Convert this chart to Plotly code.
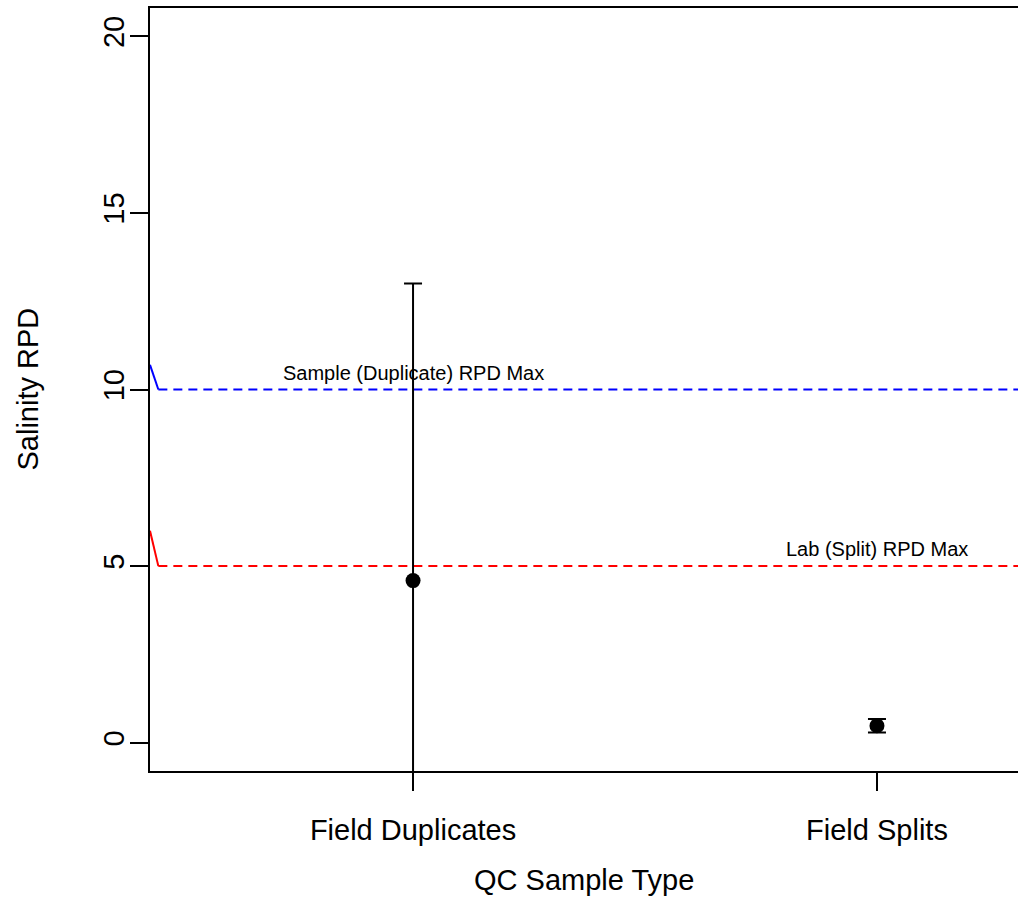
import plotly.graph_objects as go

# ---- data ----
categories = ["Field Duplicates", "Field Splits"]
cat_pos = [1, 2]
mean_rpd = [4.59, 0.48]
err_rpd = [8.41, 0.19]

dup_max = 10.0
split_max = 5.0
dup_label = "Sample (Duplicate) RPD Max"
split_label = "Lab (Split) RPD Max"

y_ticks = [0, 5, 10, 15, 20]
x_range = [0.433, 2.304]
y_range = [-0.8, 20.8]

# reference line geometry (data units)
line_start = 0.451
dup_slant_top = 10.7
split_slant_top = 6.0

FONT = "Liberation Sans, Arial, sans-serif"

fig = go.Figure()

# threshold lines (dashed)
fig.add_trace(go.Scatter(x=[line_start, x_range[1]], y=[dup_max, dup_max], mode="lines",
                         line=dict(color="blue", width=2, dash="9px,6px"), showlegend=False, hoverinfo="skip"))
fig.add_trace(go.Scatter(x=[line_start, x_range[1]], y=[split_max, split_max], mode="lines",
                         line=dict(color="red", width=2, dash="9px,6px"), showlegend=False, hoverinfo="skip"))
# short slanted solid segments at left
fig.add_trace(go.Scatter(x=[x_range[0], line_start], y=[dup_slant_top, dup_max], mode="lines",
                         line=dict(color="blue", width=2), showlegend=False, hoverinfo="skip"))
fig.add_trace(go.Scatter(x=[x_range[0], line_start], y=[split_slant_top, split_max], mode="lines",
                         line=dict(color="red", width=2), showlegend=False, hoverinfo="skip"))

# points with error bars
fig.add_trace(go.Scatter(
    x=cat_pos, y=mean_rpd, mode="markers",
    marker=dict(color="black", size=15, symbol="circle"),
    error_y=dict(type="data", array=err_rpd, symmetric=True, color="black", thickness=2, width=9),
    showlegend=False))

fig.add_annotation(x=cat_pos[0], y=dup_max, text=dup_label, showarrow=False,
                   yanchor="bottom", yshift=4, font=dict(family=FONT, size=20, color="black"))
fig.add_annotation(x=cat_pos[1], y=split_max, text=split_label, showarrow=False,
                   yanchor="bottom", yshift=4, font=dict(family=FONT, size=20, color="black"))

# axis titles
fig.add_annotation(xref="paper", yref="paper", x=0, y=0.5, xshift=-123, text="Salinity RPD",
                   textangle=-90, showarrow=False, xanchor="center", yanchor="middle",
                   font=dict(family=FONT, size=29, color="black"))
fig.add_annotation(xref="paper", yref="paper", x=0.5, y=0, yshift=-109, text="QC Sample Type",
                   showarrow=False, xanchor="center", yanchor="middle",
                   font=dict(family=FONT, size=29, color="black"))

fig.update_layout(
    width=1018, height=924,
    margin=dict(l=150, r=0, t=8, b=153),
    paper_bgcolor="white", plot_bgcolor="white",
    font=dict(family=FONT, color="black"),
    xaxis=dict(range=x_range, tickvals=cat_pos, ticktext=categories, showline=True, mirror=True,
               linecolor="black", linewidth=2, ticks="outside", ticklen=18, tickwidth=2, tickcolor="black",
               showgrid=False, zeroline=False, tickfont=dict(family=FONT, size=29), ticklabelstandoff=14),
    yaxis=dict(range=y_range, tickvals=y_ticks, showline=True, mirror=False,
               linecolor="black", linewidth=2, ticks="outside", ticklen=18, tickwidth=2, tickcolor="black",
               showgrid=False, zeroline=False, tickangle=-90, tickfont=dict(family=FONT, size=29),
               ticklabelstandoff=-6),
)

fig.write_html("out.html")
